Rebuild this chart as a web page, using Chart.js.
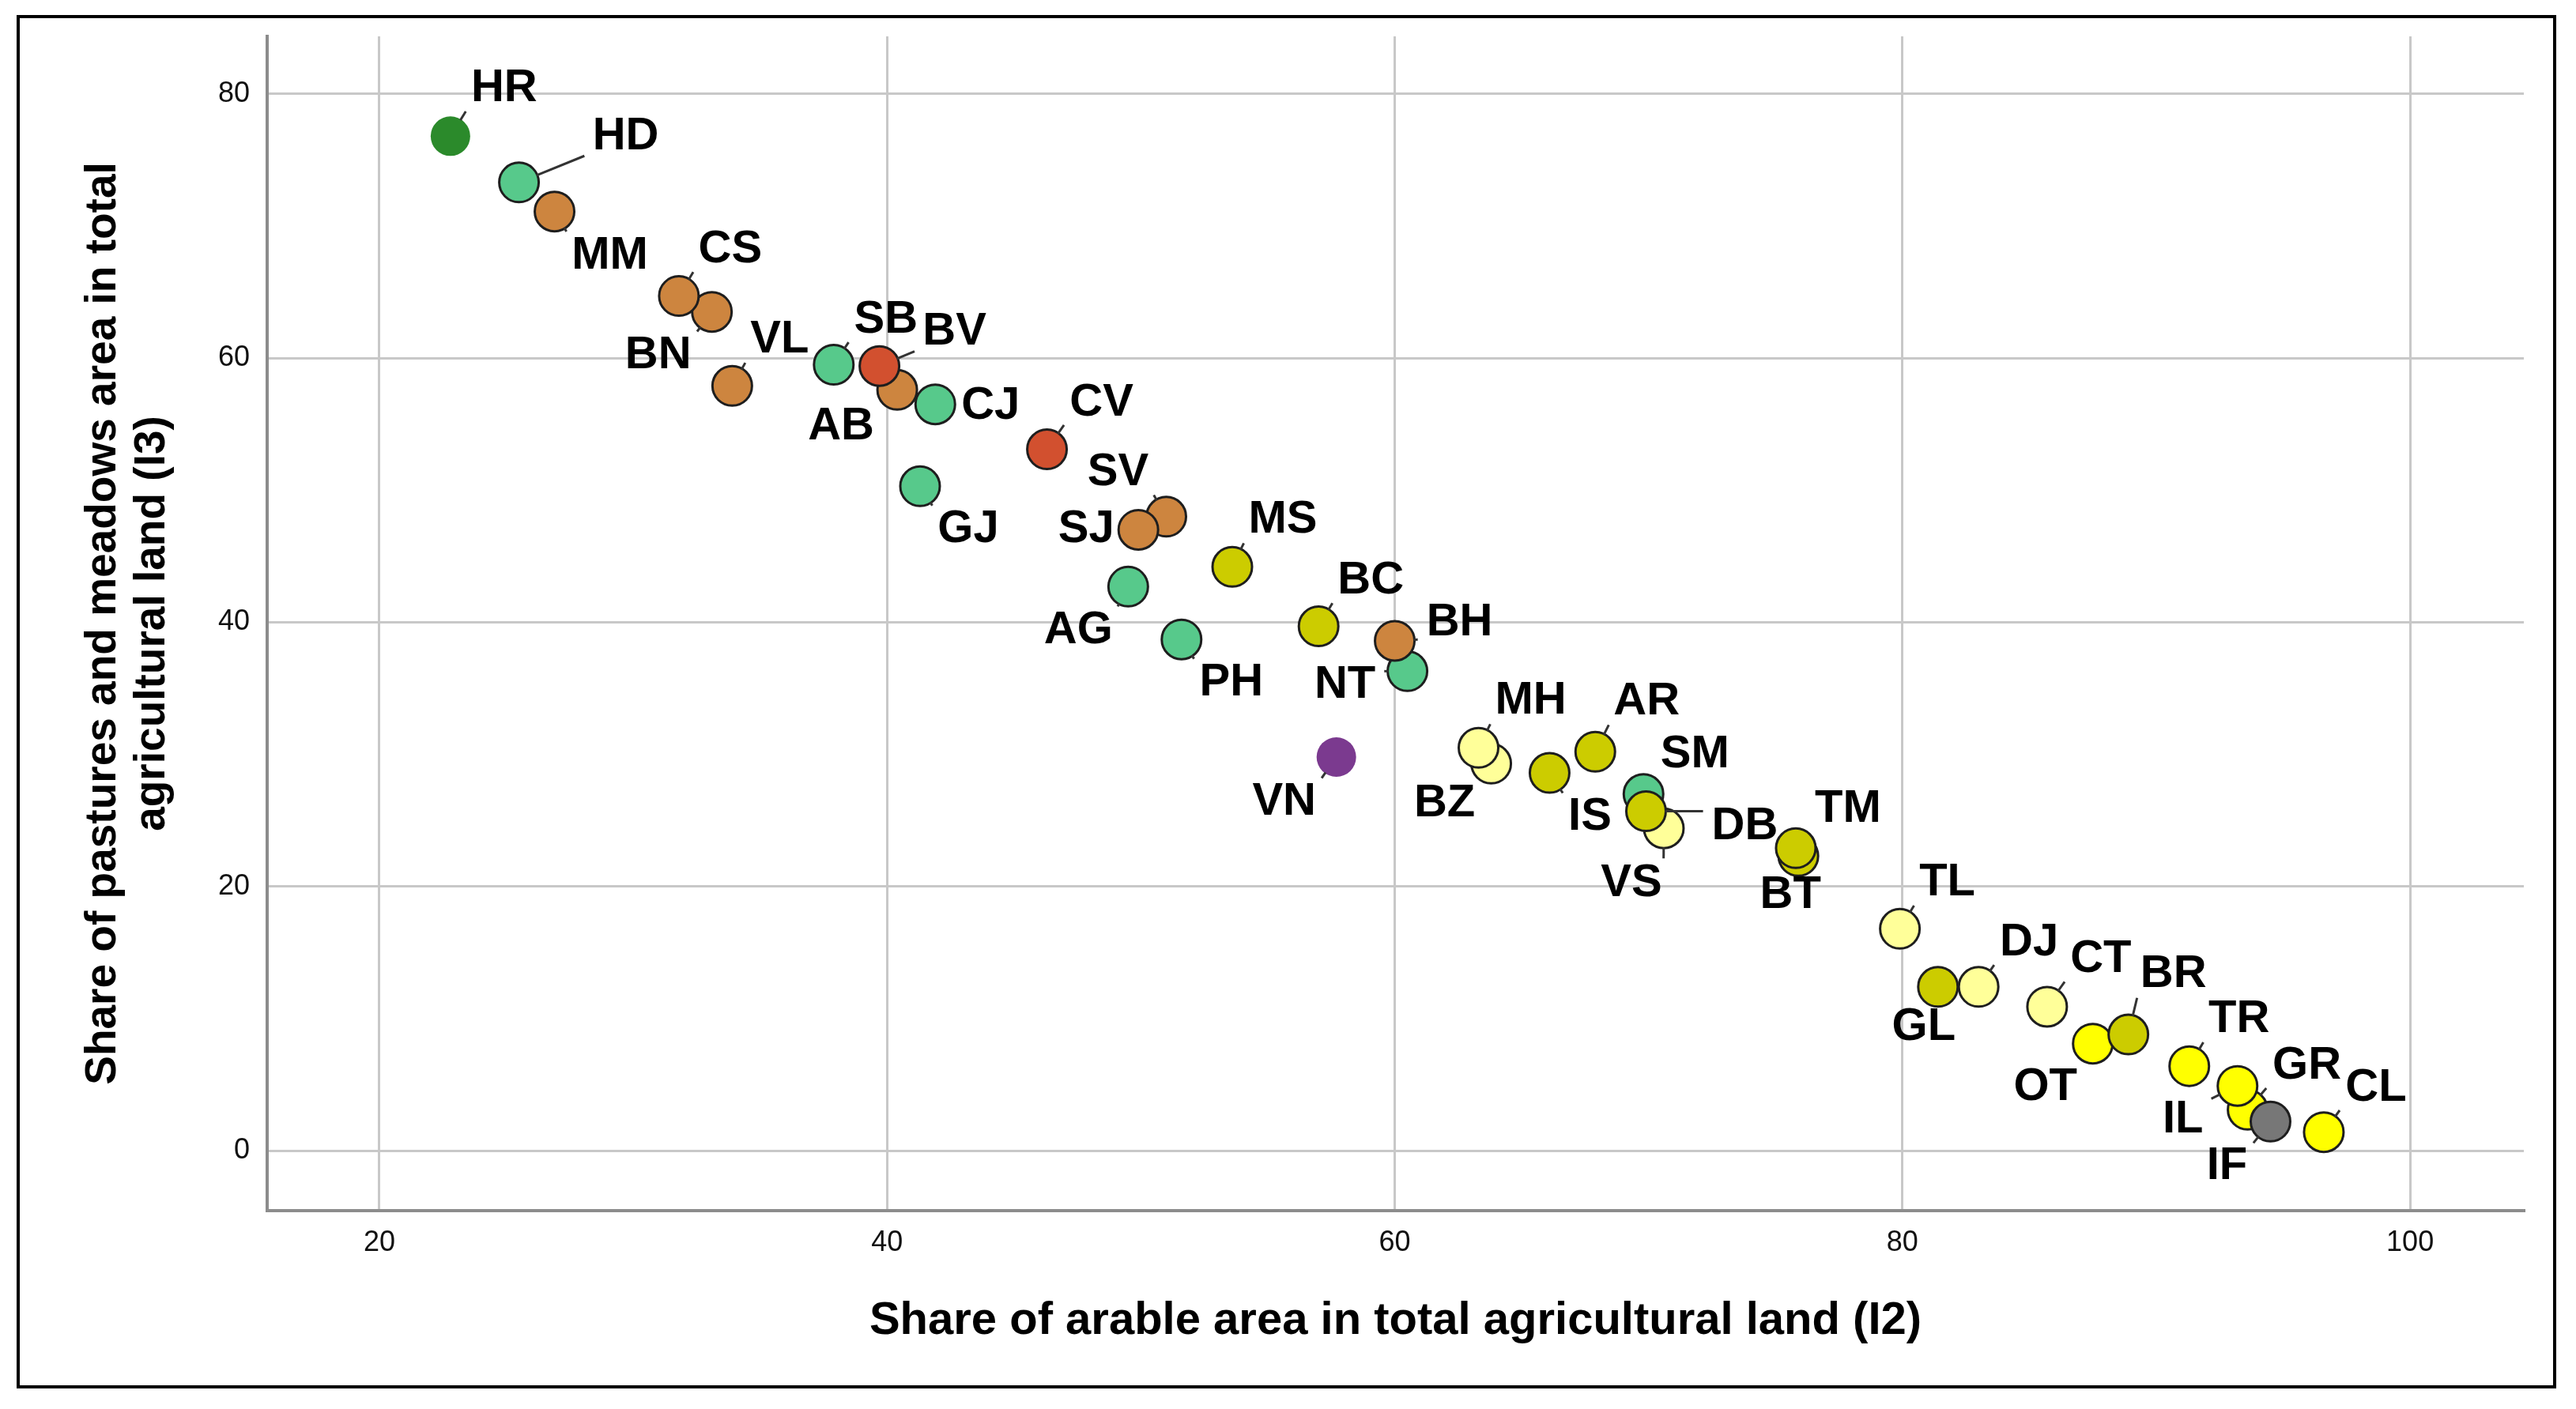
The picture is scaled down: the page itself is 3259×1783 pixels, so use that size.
<!DOCTYPE html>
<html>
<head>
<meta charset="utf-8">
<title>Arable vs pastures share by county</title>
<script src="https://cdn.jsdelivr.net/npm/chart.js@4.4.1/dist/chart.umd.min.js"></script>
<style>
  html, body { margin: 0; padding: 0; background: #fff; overflow: hidden; }
  canvas { display: block; }
</style>
</head>
<body>
<canvas id="countyChart" width="3259" height="1783"></canvas>
<script>
// county codes, in drawing order (later ones sit on top)
var counties = ["HR","HD","MM","BN","CS","VL","SB","AB","BV","CJ",
  "CV","GJ","SV","SJ","MS","AG","PH","BC","NT","BH",
  "VN","BZ","MH","IS","AR","SM","VS","DB","BT","TM",
  "TL","GL","DJ","CT","OT","BR","TR","GR","IL","IF","CL"];

// share of arable area in total agricultural land (I2)
var arableShare = [22.8,25.5,26.9,33.1,31.8,33.9,37.9,40.4,39.7,41.9,
  46.3,41.3,51.0,49.9,53.6,49.5,51.6,57.0,60.5,60.0,
  57.7,63.8,63.3,66.1,67.9,69.8,70.6,69.9,75.9,75.8,
  79.9,81.4,83.0,85.7,87.5,88.9,91.3,93.6,93.2,94.5,96.6];

// share of pastures and meadows area in total agricultural land (I3)
var pastureShare = [76.8,73.3,71.1,63.5,64.7,57.9,59.5,57.6,59.4,56.5,
  53.1,50.3,48.0,47.0,44.2,42.7,38.7,39.7,36.3,38.6,
  29.8,29.3,30.5,28.6,30.2,27.0,24.4,25.7,22.3,22.9,
  16.8,12.4,12.4,10.9,8.1,8.8,6.4,3.1,4.9,2.2,1.4];

// cluster of each county
var clusterOf = [0,1,2,2,2,2,1,2,3,1,
  3,1,2,2,4,1,1,4,1,2,
  8,5,5,4,4,1,5,4,4,4,
  5,4,5,5,6,4,6,6,6,7,6];

var clusterColors = ["#2b8a2b","#57c98b","#cd853f","#d2502f","#cccc00",
  "#ffff99","#ffff00","#777777","#7b3a8f"];
var clustersWithoutOutline = [0, 8];

var xTicks = [20, 40, 60, 80, 100];
var yTicks = [0, 20, 40, 60, 80];

// where each code sits relative to its point (px)
var labelOffsets = {
  HR:[68,-61], HD:[135,-59], MM:[70,55], BN:[-68,54], CS:[65,-60],
  VL:[60,-59], SB:[66,-58], AB:[-71,46], BV:[95,-44], CJ:[70,1],
  CV:[69,-60], GJ:[61,54], SV:[-61,-57], SJ:[-66,-1], MS:[64,-60],
  AG:[-63,55], PH:[63,54], BC:[66,-59], NT:[-79,17], BH:[82,-24],
  VN:[-66,56], BZ:[-59,50], MH:[66,-60], IS:[51,55], AR:[65,-64],
  SM:[65,-51], VS:[-41,69], DB:[125,18], BT:[-10,49], TM:[66,-50],
  TL:[60,-59], GL:[-18,50], DJ:[64,-57], CT:[68,-61], OT:[-60,54],
  BR:[57,-77], TR:[63,-60], GR:[75,-56], IL:[-69,42], IF:[-55,56],
  CL:[66,-57]
};

var FONT = "'Liberation Sans', Arial, sans-serif";
var R = 25;

var points = counties.map(function (c, i) {
  return { x: arableShare[i], y: pastureShare[i] };
});

var frame = {
  id: "frame",
  beforeDraw: function (chart) {
    var c = chart.ctx;
    c.save();
    c.fillStyle = "#fff";
    c.fillRect(0, 0, chart.width, chart.height);
    c.restore();
  },
  afterDraw: function (chart) {
    var c = chart.ctx;
    c.save();
    c.strokeStyle = "#000";
    c.lineWidth = 4;
    c.strokeRect(23, 21, 3209, 1734);
    c.restore();
  }
};

var countyLabels = {
  id: "countyLabels",
  afterDatasetsDraw: function (chart) {
    var c = chart.ctx;
    var meta = chart.getDatasetMeta(0);
    c.save();
    c.font = "bold 58px " + FONT;
    c.textAlign = "center";
    c.textBaseline = "middle";
    meta.data.forEach(function (pt, i) {
      var name = counties[i];
      var off = labelOffsets[name];
      var lx = pt.x + off[0], ly = pt.y + off[1];
      var hw = c.measureText(name).width / 2 + 2, hh = 22;
      var nx = Math.max(lx - hw, Math.min(pt.x, lx + hw));
      var ny = Math.max(ly - hh, Math.min(pt.y, ly + hh));
      var vx = nx - pt.x, vy = ny - pt.y, d = Math.hypot(vx, vy);
      // short leader from the marker edge toward its code
      if (d > R + 12) {
        var ux = vx / d, uy = vy / d;
        c.strokeStyle = "#333";
        c.lineWidth = 3;
        c.beginPath();
        c.moveTo(pt.x + ux * (R - 1), pt.y + uy * (R - 1));
        c.lineTo(pt.x + ux * (d - 9), pt.y + uy * (d - 9));
        c.stroke();
      }
      c.fillStyle = "#000";
      c.fillText(name, lx, ly + 1);
    });
    c.restore();
  }
};

var ctx = document.getElementById("countyChart").getContext("2d");
var myChart = new Chart(ctx, {
  type: "scatter",
  data: {
    datasets: [{
      label: "Counties",
      data: points,
      pointRadius: R,
      pointHoverRadius: R,
      pointBackgroundColor: clusterOf.map(function (k) { return clusterColors[k]; }),
      pointBorderColor: "#1e1e1e",
      pointBorderWidth: clusterOf.map(function (k) {
        return clustersWithoutOutline.indexOf(k) >= 0 ? 0 : 3;
      })
    }]
  },
  options: {
    responsive: false,
    animation: false,
    events: [],
    layout: { padding: { top: 46, right: 66, left: 0, bottom: 0 } },
    plugins: {
      legend: { display: false },
      tooltip: { enabled: false }
    },
    scales: {
      x: {
        type: "linear",
        min: 15.58,
        max: 104.48,
        afterBuildTicks: function (s) { s.ticks = xTicks.map(function (v) { return { value: v }; }); },
        afterFit: function (s) { s.height = 251; },
        grid: { color: "#c8c8c8", lineWidth: 3, drawTicks: false },
        border: { color: "#8c8c8c", width: 4 },
        ticks: { padding: 19, color: "#111", font: { family: FONT, size: 36 } },
        title: {
          display: true,
          text: "Share of arable area in total agricultural land (I2)",
          color: "#000",
          font: { family: FONT, size: 58, weight: "bold", lineHeight: 1.2 },
          padding: { top: 0, bottom: 76 }
        }
      },
      y: {
        type: "linear",
        min: -4.54,
        max: 84.36,
        afterBuildTicks: function (s) { s.ticks = yTicks.map(function (v) { return { value: v }; }); },
        afterFit: function (s) { s.width = 338; },
        grid: { color: "#c8c8c8", lineWidth: 3, drawTicks: false },
        border: { color: "#8c8c8c", width: 4 },
        ticks: { padding: 22, color: "#111", font: { family: FONT, size: 36 } },
        title: {
          display: true,
          text: ["Share of pastures and meadows area in total", "agricultural land (I3)"],
          color: "#000",
          font: { family: FONT, size: 55, weight: "bold", lineHeight: 1.127 },
          padding: { top: 100, bottom: 0 }
        }
      }
    }
  },
  plugins: [frame, countyLabels]
});
</script>
</body>
</html>
